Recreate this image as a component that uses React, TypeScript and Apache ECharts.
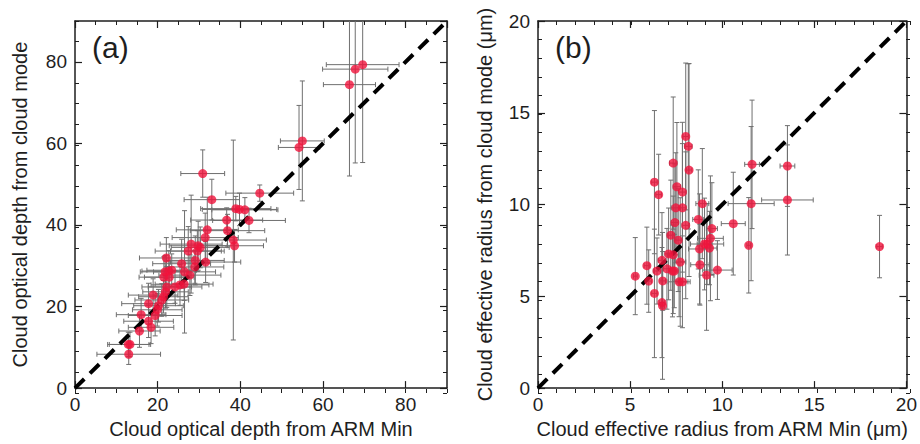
import React, { useEffect, useRef } from 'react';
import * as echarts from 'echarts';

// ---- Panel (a): cloud optical depth ----
const tauArm = [69.6, 67.8, 66.4, 55.0, 54.2, 30.9, 44.7, 33.1, 38.9, 39.8, 41.1, 42.1, 36.7, 36.9, 38.3, 38.6, 32.0, 31.5, 28.1, 29.8, 30.3, 27.4, 29.6, 29.1, 31.6, 22.1, 25.8, 26.5, 29.0, 21.8, 22.7, 23.4, 21.5, 22.8, 27.8, 24.2, 25.4, 26.4, 22.2, 21.9, 21.4, 21.0, 18.9, 20.2, 19.9, 17.8, 16.0, 19.4, 17.8, 18.4, 15.6, 12.9, 13.3, 13.0];
const tauMode = [79.3, 78.2, 74.4, 60.6, 59.0, 52.6, 47.8, 46.2, 44.0, 43.8, 43.7, 41.1, 41.2, 38.6, 36.3, 34.9, 38.8, 36.9, 35.3, 34.9, 34.5, 33.6, 33.6, 31.3, 30.9, 31.9, 30.5, 28.5, 29.7, 28.5, 28.7, 28.9, 27.2, 27.2, 27.7, 24.8, 25.3, 25.5, 24.8, 23.6, 22.4, 21.6, 22.8, 20.2, 19.2, 20.7, 18.0, 17.8, 16.4, 14.9, 14.0, 10.7, 10.7, 8.3];
const tauArmErr = [8.8, 7.9, 6.3, 5.3, 5.0, 5.3, 8.2, 6.7, 8.5, 9.0, 8.0, 8.8, 8.7, 9.0, 8.0, 7.0, 7.5, 8.0, 7.5, 7.0, 7.0, 8.0, 6.5, 7.0, 8.5, 6.5, 7.0, 7.5, 7.0, 6.0, 6.5, 6.0, 6.0, 6.0, 7.5, 6.5, 7.0, 7.0, 6.0, 5.5, 6.0, 6.5, 6.0, 6.0, 6.0, 6.5, 6.0, 6.5, 6.0, 5.5, 5.0, 5.0, 5.0, 7.7];
const tauModeErr = [24, 23, 22.4, 14.7, 10.3, 5.8, 2.0, 5.0, 3.0, 4.0, 3.0, 3.0, 3.0, 4.0, 24.5, 4.0, 8.0, 6.0, 12.0, 6.0, 5.0, 6.0, 5.0, 6.0, 5.0, 5.0, 6.0, 15.0, 4.0, 4.0, 5.0, 4.0, 5.0, 4.0, 5.0, 4.0, 5.0, 4.0, 5.0, 4.0, 4.0, 4.0, 4.0, 4.0, 4.0, 5.0, 4.0, 5.0, 4.0, 4.0, 4.0, 3.0, 3.0, 2.5];

// ---- Panel (b): cloud effective radius ----
const reArm = [18.54, 13.54, 13.54, 11.62, 11.57, 11.44, 10.6, 9.74, 9.44, 9.36, 9.31, 9.18, 8.92, 8.7, 9.04, 8.77, 8.79, 9.15, 8.16, 8.02, 8.2, 7.34, 7.54, 7.84, 7.48, 7.84, 7.43, 8.02, 7.21, 7.61, 7.09, 7.34, 6.73, 7.0, 6.46, 7.3, 7.72, 7.4, 6.77, 7.66, 7.84, 6.32, 6.55, 5.91, 6.01, 6.32, 5.28, 6.73, 6.76];
const reMode = [7.71, 12.1, 10.25, 12.19, 10.05, 7.78, 8.96, 6.43, 8.69, 8.16, 7.63, 7.85, 10.05, 9.19, 7.85, 7.58, 6.72, 6.15, 13.17, 13.71, 11.88, 12.26, 10.97, 10.68, 9.82, 9.82, 9.02, 8.87, 8.33, 8.06, 7.31, 7.26, 6.96, 6.5, 6.38, 6.38, 6.87, 6.38, 5.84, 5.79, 5.79, 11.22, 10.54, 6.67, 5.83, 5.16, 6.1, 4.66, 4.48];
const reArmErr = [0.15, 0.4, 1.4, 0.4, 1.25, 0.1, 0.65, 0.8, 0.3, 0.7, 0.4, 0.9, 0.35, 0.3, 0.4, 0.6, 0.5, 0.4, 0.2, 0.15, 0.15, 0.2, 0.2, 0.2, 0.25, 0.2, 0.2, 0.2, 0.2, 0.2, 0.2, 0.3, 0.2, 0.2, 0.2, 0.2, 0.3, 0.2, 0.15, 0.6, 0.3, 0.15, 0.15, 0.15, 0.15, 0.15, 0.1, 0.15, 0.1];
const reModeErr = [1.7, 2.2, 3.0, 3.5, 4.2, 2.6, 2.8, 1.6, 2.5, 3.4, 2.0, 2.2, 3.0, 2.7, 2.5, 3.0, 2.2, 3.0, 4.5, 4.0, 5.8, 3.6, 3.5, 3.8, 3.0, 3.5, 3.2, 4.0, 3.0, 2.8, 2.5, 3.2, 2.6, 2.2, 1.8, 2.5, 3.5, 2.0, 1.6, 1.9, 2.5, 3.9, 2.2, 2.1, 1.7, 3.5, 2.1, 3.0, 4.0];

const FONT = "'Liberation Sans', Arial, Helvetica, sans-serif";
const INK = '#1e1e1e';
const DOT = '#f0143c';
const BAR = '#6f6f6f';

function majorX(grid: number, max: number, interval: number, name: string | null, pos: string) {
  const labelled = name !== null;
  return {
    type: 'value', gridIndex: grid, position: pos, min: 0, max, interval,
    name: labelled ? name : undefined,
    nameLocation: 'middle', nameGap: 27,
    nameTextStyle: { fontFamily: FONT, fontSize: 20, color: INK },
    axisLine: { show: true, onZero: false, lineStyle: { color: INK, width: 1.5 } },
    axisTick: { show: true, inside: true, length: 7, lineStyle: { color: INK, width: 1.2 } },
    axisLabel: { show: labelled, margin: 7, fontSize: 19, color: INK, fontFamily: FONT, showMaxLabel: max % interval === 0, showMinLabel: true },
    splitLine: { show: false },
  };
}
function majorY(grid: number, max: number, interval: number, name: string | null, pos: string, nameGap: number) {
  const labelled = name !== null;
  return {
    type: 'value', gridIndex: grid, position: pos, min: 0, max, interval,
    name: labelled ? name : undefined,
    nameLocation: 'middle', nameGap,
    nameTextStyle: { fontFamily: FONT, fontSize: 20, color: INK },
    axisLine: { show: true, onZero: false, lineStyle: { color: INK, width: 1.5 } },
    axisTick: { show: true, inside: true, length: 7, lineStyle: { color: INK, width: 1.2 } },
    axisLabel: { show: labelled, margin: 8, fontSize: 19, color: INK, fontFamily: FONT, showMaxLabel: max % interval === 0, showMinLabel: true },
    splitLine: { show: false },
  };
}
function minorAxis(grid: number, max: number, interval: number, pos: string) {
  return {
    type: 'value', gridIndex: grid, position: pos, min: 0, max, interval,
    axisLine: { show: false, onZero: false },
    axisTick: { show: true, inside: true, length: 4, lineStyle: { color: INK, width: 1 } },
    axisLabel: { show: false },
    splitLine: { show: false },
  };
}

function errorBars(xIdx: number, yIdx: number, data: number[][]) {
  return {
    type: 'custom', xAxisIndex: xIdx, yAxisIndex: yIdx, clip: true, z: 2,
    data,
    encode: { x: 0, y: 1 },
    renderItem: (_p: any, api: any) => {
      const x = api.value(0), y = api.value(1), xe = api.value(2), ye = api.value(3);
      const l = api.coord([x - xe, y]);
      const r = api.coord([x + xe, y]);
      const t = api.coord([x, y + ye]);
      const b = api.coord([x, y - ye]);
      const cap = 2.5;
      const style = { stroke: BAR, lineWidth: 1 };
      return {
        type: 'group',
        children: [
          { type: 'line', shape: { x1: l[0], y1: l[1], x2: r[0], y2: r[1] }, style },
          { type: 'line', shape: { x1: l[0], y1: l[1] - cap, x2: l[0], y2: l[1] + cap }, style },
          { type: 'line', shape: { x1: r[0], y1: r[1] - cap, x2: r[0], y2: r[1] + cap }, style },
          { type: 'line', shape: { x1: t[0], y1: t[1], x2: b[0], y2: b[1] }, style },
          { type: 'line', shape: { x1: t[0] - cap, y1: t[1], x2: t[0] + cap, y2: t[1] }, style },
          { type: 'line', shape: { x1: b[0] - cap, y1: b[1], x2: b[0] + cap, y2: b[1] }, style },
        ],
      };
    },
  };
}

export default function App() {
  const ref = useRef<HTMLDivElement>(null);
  useEffect(() => {
    if (!ref.current) return;
    const chart = echarts.init(ref.current, undefined, { renderer: 'svg' });
    const tauData = tauArm.map((v, i) => [v, tauMode[i], tauArmErr[i], tauModeErr[i]]);
    const reData = reArm.map((v, i) => [v, reMode[i], reArmErr[i], reModeErr[i]]);
    const rect = { top: 21, width: 372, height: 372 };
    chart.setOption({
      animation: false,
      backgroundColor: '#ffffff',
      grid: [
        { ...rect, left: 75 },
        { ...rect, left: 75 },
        { ...rect, left: 538 },
        { ...rect, left: 538 },
      ],
      xAxis: [
        majorX(0, 90, 20, 'Cloud optical depth from ARM Min', 'bottom'),
        majorX(0, 90, 20, null, 'top'),
        minorAxis(1, 90, 5, 'bottom'),
        minorAxis(1, 90, 5, 'top'),
        majorX(2, 20, 5, 'Cloud effective radius from ARM Min (μm)', 'bottom'),
        majorX(2, 20, 5, null, 'top'),
        minorAxis(3, 20, 1, 'bottom'),
        minorAxis(3, 20, 1, 'top'),
      ],
      yAxis: [
        majorY(0, 90, 20, 'Cloud optical depth from cloud mode', 'left', 45),
        majorY(0, 90, 20, null, 'right', 10),
        minorAxis(1, 90, 5, 'left'),
        minorAxis(1, 90, 5, 'right'),
        majorY(2, 20, 5, 'Cloud effective radius from cloud mode (μm)', 'left', 43),
        majorY(2, 20, 5, null, 'right', 10),
        minorAxis(3, 20, 1, 'left'),
        minorAxis(3, 20, 1, 'right'),
      ],
      series: [
        errorBars(0, 0, tauData),
        {
          type: 'line', xAxisIndex: 0, yAxisIndex: 0, z: 3, symbol: 'none', silent: true,
          data: [[0, 0], [90, 90]],
          lineStyle: { color: '#000', width: 4, type: [13, 8] },
        },
        {
          type: 'scatter', xAxisIndex: 0, yAxisIndex: 0, z: 4, symbolSize: 9,
          data: tauData.map((d) => [d[0], d[1]]),
          itemStyle: { color: DOT },
        },
        errorBars(4, 4, reData),
        {
          type: 'line', xAxisIndex: 4, yAxisIndex: 4, z: 3, symbol: 'none', silent: true,
          data: [[0, 0], [20, 20]],
          lineStyle: { color: '#000', width: 4, type: [13, 8] },
        },
        {
          type: 'scatter', xAxisIndex: 4, yAxisIndex: 4, z: 4, symbolSize: 9,
          data: reData.map((d) => [d[0], d[1]]),
          itemStyle: { color: DOT },
        },
      ],
      graphic: [
        { type: 'text', left: 92, top: 32, style: { text: '(a)', fontSize: 30, fontFamily: FONT, fill: INK } },
        { type: 'text', left: 555, top: 32, style: { text: '(b)', fontSize: 30, fontFamily: FONT, fill: INK } },
      ],
    });
    return () => chart.dispose();
  }, []);
  return <div ref={ref} style={{ position: 'absolute', left: 0, top: 0, width: 920, height: 444 }} />;
}
